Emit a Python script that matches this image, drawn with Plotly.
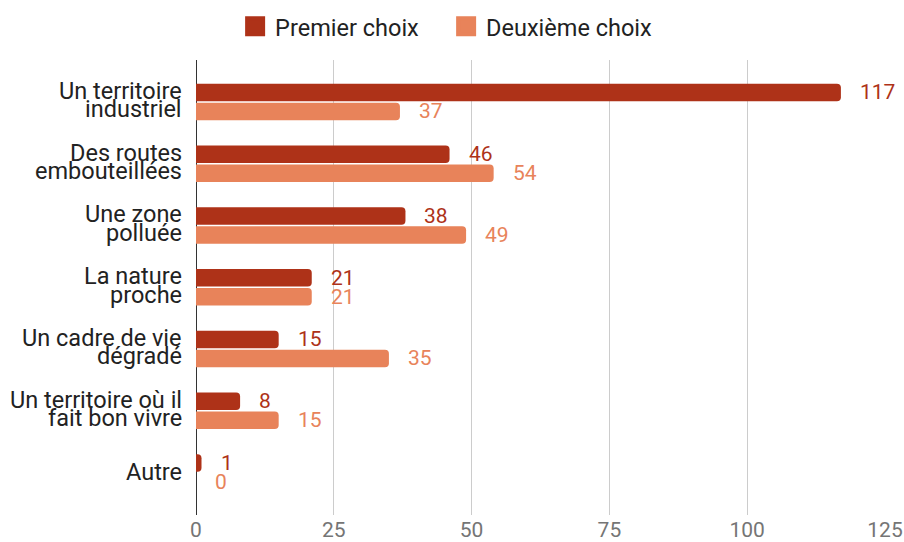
import plotly.graph_objects as go

categories = [
    "Un territoire<br>industriel",
    "Des routes<br>embouteillées",
    "Une zone<br>polluée",
    "La nature<br>proche",
    "Un cadre de vie<br>dégradé",
    "Un territoire où il<br>fait bon vivre",
    "Autre",
]
premier = [117, 46, 38, 21, 15, 8, 1]
deuxieme = [37, 54, 49, 21, 35, 15, 0]
series_names = ["Premier choix", "Deuxième choix"]
x_ticks = [0, 25, 50, 75, 100, 125]

DARK = "#ae3218"
LIGHT = "#e8835a"
FONT = "Roboto"

fig = go.Figure()
for name, vals, col in [(series_names[0], premier, DARK), (series_names[1], deuxieme, LIGHT)]:
    fig.add_trace(go.Bar(
        y=categories, x=vals, orientation="h", name=name,
        marker=dict(color=col, line=dict(width=0)),
        showlegend=False, hoverinfo="x+name",
    ))
    # legend proxy
    fig.add_trace(go.Scatter(
        x=[None], y=[None], mode="markers", name=name,
        marker=dict(symbol="square", size=16, color=col, line=dict(color=col, width=4)),
        showlegend=True,
    ))

annotations = []
# value labels
for vals, col, ysh in [(premier, DARK, 9.5), (deuxieme, LIGHT, -9.5)]:
    for c, v in zip(categories, vals):
        annotations.append(dict(
            x=v, y=c, xref="x", yref="y", text=str(v), showarrow=False,
            xanchor="left", yanchor="middle", xshift=17, yshift=ysh,
            font=dict(family=FONT, size=21, color=col),
        ))
# category labels (tight line spacing)
for c in categories:
    lines = c.split("<br>")
    shifts = [0] if len(lines) == 1 else [11, -7.5]
    for ln, sh in zip(lines, shifts):
        annotations.append(dict(
            x=0, y=c, xref="paper", yref="y", text=ln, showarrow=False,
            xanchor="right", yanchor="middle", xshift=-12, yshift=sh,
            font=dict(family=FONT, size=23.5, color="#222222"),
        ))

fig.update_layout(
    width=904, height=542,
    margin=dict(l=196, r=19, t=60, b=27, autoexpand=False),
    paper_bgcolor="white", plot_bgcolor="white",
    barmode="group", bargap=0.385, bargroupgap=0.08,
    barcornerradius=4,
    font=dict(family=FONT, color="#222222"),
    legend=dict(
        orientation="h", xref="container", yref="container",
        x=0.4935, xanchor="center", y=0.951, yanchor="middle",
        font=dict(family=FONT, size=23.5, color="#222222"),
        itemsizing="trace", entrywidth=166,
    ),
    annotations=annotations,
)
fig.update_xaxes(
    range=[0, 125], tickvals=x_ticks, ticktext=[str(t) for t in x_ticks],
    showgrid=True, gridcolor="#cccccc", gridwidth=1,
    zeroline=True, zerolinecolor="#333333", zerolinewidth=1,
    showline=False, ticks="", automargin=False, ticklabelstandoff=0,
    tickfont=dict(family=FONT, size=21, color="#757575"),
)
fig.update_yaxes(
    type="category", categoryorder="array", categoryarray=categories,
    range=[6.69, -0.68], showticklabels=False, showgrid=False, zeroline=False,
    automargin=False,
)

fig.write_html("out.html", config={"displayModeBar": False},
               post_script="document.body.style.margin='0';")
